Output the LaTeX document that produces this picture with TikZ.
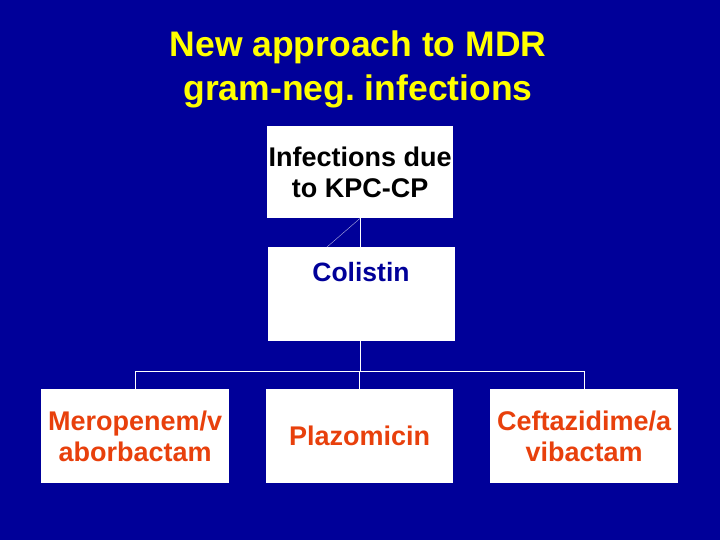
\documentclass[tikz,border=0pt]{standalone}
\usepackage{fontspec}
\setmainfont{Liberation Sans}
\frenchspacing
\definecolor{bgnavy}{HTML}{000099}
\definecolor{titleyellow}{HTML}{FFFF00}
\definecolor{drugred}{HTML}{E8400C}
\begin{document}
\begin{tikzpicture}[x=1pt,y=-1pt,
  box/.style={draw=none,fill=white,minimum width=187pt,minimum height=93pt,inner sep=0pt,anchor=north west,font=\bfseries\fontsize{27}{31}\selectfont,align=center},
  link/.style={draw=white,line width=0.8pt}]
\fill[bgnavy] (0,0) rectangle (720,540);
\useasboundingbox (0,0) rectangle (720,540);
\node[text=titleyellow,font=\bfseries\fontsize{35.5}{44}\selectfont,align=center] (title) at (358,69) {New approach to MDR\\gram-neg.\ infections};
\node[box,minimum width=186pt,minimum height=92pt] (top) at (267,126) {\fontsize{27}{30}\selectfont Infections due\\to KPC-CP};
\node[box,minimum height=94pt] (col) at (268,247) {};
\node[text=bgnavy,font=\bfseries\fontsize{26.5}{30}\selectfont] (coltext) at (361,272) {Colistin};
\node[box,minimum width=188pt,minimum height=94pt,text=drugred] (mero) at (41,389) {Meropenem/v\\aborbactam};
\node[box,minimum height=94pt,text=drugred] (plazo) at (266,389) {Plazomicin};
\node[box,minimum width=188pt,minimum height=94pt,text=drugred] (ceft) at (490,389) {Ceftazidime/a\\vibactam};
\coordinate (junc) at (360,371);
\draw[link] (top.south -| junc) -- (col.north -| junc);
\draw[draw=white!70!bgnavy,line width=0.4pt] ([xshift=-33pt]col.north -| junc) -- (top.south -| junc);
\draw[link] (col.south -| junc) -- (junc);
\draw[link] (junc -| mero.north) -- (junc -| ceft.north);
\draw[link] (junc -| mero.north) -- (mero.north);
\draw[link] (junc -| plazo.north) -- (plazo.north);
\draw[link] (junc -| ceft.north) -- (ceft.north);
\end{tikzpicture}
\end{document}
